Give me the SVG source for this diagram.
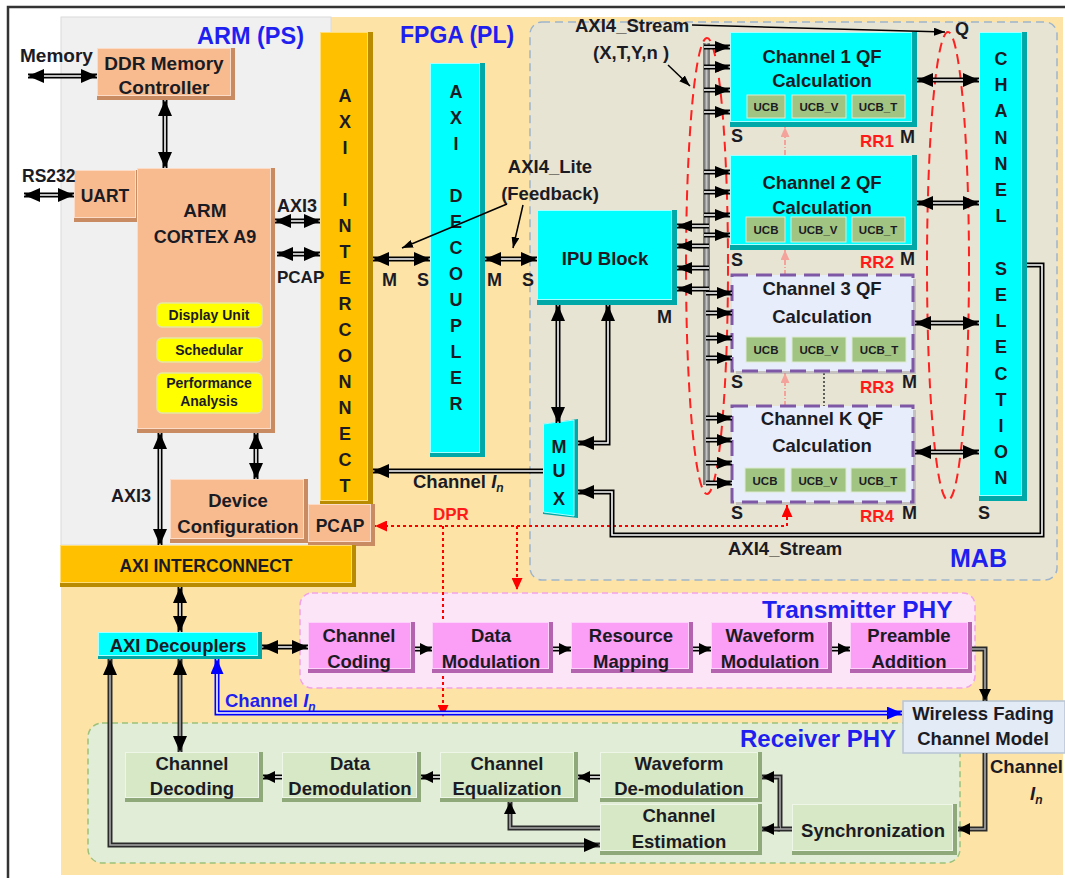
<svg xmlns="http://www.w3.org/2000/svg" width="1065" height="878" viewBox="0 0 1065 878">
<style>
text{font-family:"Liberation Sans",Arial,sans-serif;font-weight:bold;fill:#1b1b24}
.c{text-anchor:middle}
.f19{font-size:19px}
.f18{font-size:18.5px}
.f17{font-size:17.5px}
.f14{font-size:14px}
.f11{font-size:11.5px;text-anchor:middle}
.v{font-size:18px;text-anchor:middle}
.hd{fill:#1f1ff0;font-size:24px}
.rr{fill:#ff1a1a;font-size:17px}
.pe{fill:#F8BB90;stroke:#FCDCC6;stroke-width:1}.pe-d{fill:#C98B62}
.go{fill:#FFC000;stroke:#FFDD77;stroke-width:1}.go-d{fill:#B98B00}
.cy{fill:#00FFFF;stroke:#A8FFFF;stroke-width:1}.cy-d{fill:#00A8A8}
.mg{fill:#FA9EF6;stroke:#FDD3FB;stroke-width:1}.mg-d{fill:#B463AE}
.gr{fill:#D6E8C5;stroke:#EEF6E7;stroke-width:1}.gr-d{fill:#8FA97A}
.yl{fill:#FFFF00;stroke:#E6E6A0;stroke-width:1.5}
.ucb{fill:#A2C482;stroke:#DCEBCF;stroke-width:1}
.rc{fill:#E7EDFA;stroke:#7E58A6;stroke-width:3;stroke-dasharray:16 8}
.o{fill:none;stroke:#000;stroke-width:5}
.i{fill:none;stroke:#fff;stroke-width:1.6}
.og{fill:none;stroke:#2a2a2a;stroke-width:5}
.ig{fill:none;stroke:#a8a8a8;stroke-width:1.6}
.ob{fill:none;stroke:#0000ff;stroke-width:5}
.thin{fill:none;stroke:#000;stroke-width:1.5}
.dpr{fill:none;stroke:#ff0000;stroke-width:2;stroke-dasharray:3 3}
.pd{fill:none;stroke:#F4A39C;stroke-width:2;stroke-dasharray:5 2 1 2}
.rel{fill:none;stroke:#ff2020;stroke-width:2;stroke-dasharray:10 6}
</style>
<defs>
<marker id="hb" viewBox="0 0 16 14" refX="16" refY="7" markerWidth="16" markerHeight="14" markerUnits="userSpaceOnUse" orient="auto-start-reverse"><path d="M0,0L16,7L0,14z"/></marker>
<marker id="hc" viewBox="0 0 15 12" refX="15" refY="6" markerWidth="15" markerHeight="12" markerUnits="userSpaceOnUse" orient="auto-start-reverse"><path d="M0,0L15,6L0,12z"/></marker>
<marker id="hm" viewBox="0 0 12 12" refX="12" refY="6" markerWidth="12" markerHeight="12" markerUnits="userSpaceOnUse" orient="auto-start-reverse"><path d="M0,0L12,6L0,12z"/></marker>
<marker id="ht" viewBox="0 0 11 8" refX="11" refY="4" markerWidth="11" markerHeight="8" markerUnits="userSpaceOnUse" orient="auto"><path d="M0,0L11,4L0,8z"/></marker>
<marker id="hbl" viewBox="0 0 15 13" refX="15" refY="6.5" markerWidth="15" markerHeight="13" markerUnits="userSpaceOnUse" orient="auto-start-reverse"><path d="M0,0L15,6.5L0,13z" fill="#0000ff"/></marker>
<marker id="hr" viewBox="0 0 12 11" refX="12" refY="5.5" markerWidth="12" markerHeight="11" markerUnits="userSpaceOnUse" orient="auto-start-reverse"><path d="M0,0L12,5.5L0,11z" fill="#ff0000"/></marker>
<marker id="hp" viewBox="0 0 10 9" refX="10" refY="4.5" markerWidth="10" markerHeight="9" markerUnits="userSpaceOnUse" orient="auto"><path d="M0,0L10,4.5L0,9z" fill="#F4A39C"/></marker>
<g id="ar"><path class="o" d="M0,0H26"/><path class="i" d="M0,0H26" marker-end="url(#hc)"/></g>
<g id="al"><path class="o" d="M0,0H-32"/><path class="i" d="M0,0H-32" marker-end="url(#hc)"/></g>
</defs>

<g id="regions">
<rect x="0" y="0" width="1065" height="878" fill="#fff"/>
<path d="M8,878V7H1065" fill="none" stroke="#333" stroke-width="2.5"/>
<rect x="61" y="17" width="1002" height="858" fill="#FDE4A6"/>
<rect x="61" y="17" width="270" height="528" fill="#F0F0F0" stroke="#DADADA" stroke-width="1"/>
<rect x="530" y="22" width="527" height="558" rx="12" fill="#E8E4D3" stroke="#9DB4CC" stroke-width="1.5" stroke-dasharray="8 5"/>
<rect x="300" y="593" width="675" height="95" rx="12" fill="#FCE5F6" stroke="#F2A2E6" stroke-width="1.5" stroke-dasharray="6 4"/>
<rect x="88" y="723" width="872" height="140" rx="14" fill="#E2EDD8" stroke="#9CC17A" stroke-width="1.5" stroke-dasharray="6 4"/>
<text class="hd" x="197" y="44" style="font-size:23.5px">ARM (PS)</text>
<text class="hd" x="400" y="43" style="font-size:23px">FPGA (PL)</text>
<text class="hd" x="950" y="567" style="font-size:25px">MAB</text>
<text class="hd" x="762" y="618" style="font-size:24.5px">Transmitter PHY</text>
<text class="hd" x="740" y="747">Receiver PHY</text>
</g>

<g id="connectors-back">
<path class="dpr" d="M787,505V526H375" marker-start="url(#hr)" marker-end="url(#hr)"/>
<path class="dpr" d="M443,526V717" marker-end="url(#hr)"/>
<path class="dpr" d="M517,526V590" marker-end="url(#hr)"/>
<path class="pd" d="M785,155V127" marker-end="url(#hp)"/>
<path class="pd" d="M785,275V250" marker-end="url(#hp)"/>
<path class="pd" d="M785,406V373" marker-end="url(#hp)"/>
<path d="M824,373V406" fill="none" stroke="#333" stroke-width="1.5" stroke-dasharray="2 2"/>
</g>

<g id="ddr"><rect class="pe-d" x="97" y="48" width="138" height="52"/><rect class="pe" x="97.5" y="48.5" width="133" height="47"/><text class="c f19" x="164" y="70">DDR Memory</text><text class="c f19" x="164" y="94">Controller</text></g>
<g id="uart"><rect class="pe-d" x="74" y="170" width="66" height="52"/><rect class="pe" x="74.5" y="170.5" width="61" height="47"/><text class="c f17" x="105" y="202">UART</text></g>
<g id="arm"><rect class="pe-d" x="137" y="168" width="138" height="265"/><rect class="pe" x="137.5" y="168.5" width="133" height="260"/>
<text class="c" x="205" y="217" style="font-size:19px">ARM</text><text class="c" x="205" y="243" style="font-size:18px">CORTEX A9</text>
<rect class="yl" x="157" y="303" width="105" height="24" rx="5"/><text class="c f14" x="209" y="320">Display Unit</text>
<rect class="yl" x="157" y="338" width="105" height="24" rx="5"/><text class="c f14" x="209" y="355">Schedular</text>
<rect class="yl" x="157" y="373" width="105" height="40" rx="5"/><text class="c f14" x="209" y="388">Performance</text><text class="c f14" x="209" y="406">Analysis</text></g>
<g id="devcfg"><rect class="pe-d" x="170" y="479" width="138" height="64"/><rect class="pe" x="170.5" y="479.5" width="133" height="59"/><text class="c f18" x="238" y="507">Device</text><text class="c f18" x="238" y="533">Configuration</text></g>
<g id="axi-ic-v"><rect class="go-d" x="320" y="32" width="53" height="473"/><rect class="go" x="320.5" y="32.5" width="47" height="468"/>
<text class="v"><tspan x="345" y="102">A</tspan><tspan x="345" y="128">X</tspan><tspan x="345" y="154">I</tspan><tspan x="345" y="206">I</tspan><tspan x="345" y="232">N</tspan><tspan x="345" y="258">T</tspan><tspan x="345" y="284">E</tspan><tspan x="345" y="310">R</tspan><tspan x="345" y="336">C</tspan><tspan x="345" y="362">O</tspan><tspan x="345" y="388">N</tspan><tspan x="345" y="414">N</tspan><tspan x="345" y="440">E</tspan><tspan x="345" y="466">C</tspan><tspan x="345" y="492">T</tspan></text></g>
<g id="pcap"><rect class="pe-d" x="308" y="504" width="67" height="42"/><rect class="pe" x="308.5" y="504.5" width="62" height="37"/><text class="c f17" x="340" y="532">PCAP</text></g>
<g id="axi-ic-h"><rect class="go-d" x="60" y="545" width="296" height="42"/><rect class="go" x="60.5" y="545.5" width="291" height="37"/><text class="c f17" x="206" y="572">AXI INTERCONNECT</text></g>
<g id="axi-dec"><rect class="cy-d" x="430" y="63" width="55" height="394"/><rect class="cy" x="430.5" y="63.5" width="49" height="389"/>
<text class="v"><tspan x="456" y="98">A</tspan><tspan x="456" y="124">X</tspan><tspan x="456" y="150">I</tspan><tspan x="456" y="202">D</tspan><tspan x="456" y="228">E</tspan><tspan x="456" y="254">C</tspan><tspan x="456" y="280">O</tspan><tspan x="456" y="306">U</tspan><tspan x="456" y="332">P</tspan><tspan x="456" y="358">L</tspan><tspan x="456" y="384">E</tspan><tspan x="456" y="410">R</tspan></text></g>
<g id="ipu"><rect class="cy-d" x="537" y="210" width="140" height="95"/><rect class="cy" x="537.5" y="210.5" width="134" height="89"/><text class="c f18" x="605" y="265">IPU Block</text></g>
<g id="mux"><polygon class="cy-d" points="543,424 578,419 578,518 543,514"/><polygon class="cy" points="543.5,424 574,420 574,516 543.5,512"/>
<text class="v"><tspan x="559" y="453">M</tspan><tspan x="559" y="477">U</tspan><tspan x="559" y="505">X</tspan></text></g>
<g id="ch1"><rect class="cy-d" x="730" y="32" width="187" height="95"/><rect class="cy" x="730.5" y="32.5" width="181" height="89"/>
<text class="c f18" x="822" y="63">Channel 1 QF</text><text class="c f18" x="822" y="87">Calculation</text>
<rect class="ucb" x="747" y="95" width="38" height="23"/><rect class="ucb" x="792" y="95" width="54" height="23"/><rect class="ucb" x="852" y="95" width="53" height="23"/>
<text class="f11" x="766" y="111">UCB</text><text class="f11" x="819" y="111">UCB_V</text><text class="f11" x="878" y="111">UCB_T</text></g>
<g id="ch2"><rect class="cy-d" x="730" y="155" width="187" height="95"/><rect class="cy" x="730.5" y="155.5" width="181" height="89"/>
<text class="c f18" x="822" y="189">Channel 2 QF</text><text class="c f18" x="822" y="214">Calculation</text>
<rect class="ucb" x="746" y="217" width="39" height="25"/><rect class="ucb" x="791" y="217" width="55" height="25"/><rect class="ucb" x="852" y="217" width="53" height="25"/>
<text class="f11" x="766" y="234">UCB</text><text class="f11" x="818" y="234">UCB_V</text><text class="f11" x="878" y="234">UCB_T</text></g>
<g id="ch3"><rect x="736" y="279" width="180" height="95" fill="#9a96a8" opacity=".45"/><rect class="rc" x="732" y="275" width="181" height="96"/>
<text class="c f18" x="822" y="295">Channel 3 QF</text><text class="c f18" x="822" y="323">Calculation</text>
<rect class="ucb" x="746" y="337" width="40" height="25"/><rect class="ucb" x="792" y="337" width="54" height="25"/><rect class="ucb" x="852" y="337" width="54" height="25"/>
<text class="f11" x="766" y="354">UCB</text><text class="f11" x="819" y="354">UCB_V</text><text class="f11" x="879" y="354">UCB_T</text></g>
<g id="chk"><rect x="736" y="410" width="180" height="95" fill="#9a96a8" opacity=".45"/><rect class="rc" x="732" y="406" width="181" height="96"/>
<text class="c f18" x="822" y="425">Channel K QF</text><text class="c f18" x="822" y="452">Calculation</text>
<rect class="ucb" x="745" y="468" width="40" height="24"/><rect class="ucb" x="791" y="468" width="55" height="24"/><rect class="ucb" x="851" y="468" width="55" height="24"/>
<text class="f11" x="765" y="485">UCB</text><text class="f11" x="818" y="485">UCB_V</text><text class="f11" x="878" y="485">UCB_T</text></g>
<g id="chsel"><rect class="cy-d" x="979" y="32" width="48" height="469"/><rect class="cy" x="979.5" y="32.5" width="42" height="463"/>
<text class="v"><tspan x="1001" y="65">C</tspan><tspan x="1001" y="91">H</tspan><tspan x="1001" y="117">A</tspan><tspan x="1001" y="144">N</tspan><tspan x="1001" y="170">N</tspan><tspan x="1001" y="196">E</tspan><tspan x="1001" y="222">L</tspan><tspan x="1001" y="275">S</tspan><tspan x="1001" y="301">E</tspan><tspan x="1001" y="327">L</tspan><tspan x="1001" y="353">E</tspan><tspan x="1001" y="380">C</tspan><tspan x="1001" y="406">T</tspan><tspan x="1001" y="432">I</tspan><tspan x="1001" y="458">O</tspan><tspan x="1001" y="484">N</tspan></text></g>
<g id="axi-decouplers"><rect class="cy-d" x="98" y="632" width="164" height="27"/><rect class="cy" x="98.5" y="632.5" width="159" height="23"/><text class="c f18" x="178" y="652">AXI Decouplers</text></g>
<g id="tx-coding"><rect class="mg-d" x="308" y="622" width="107" height="51"/><rect class="mg" x="308.5" y="622.5" width="102" height="46"/><text class="c f18" x="359" y="642">Channel</text><text class="c f18" x="359" y="668">Coding</text></g>
<g id="tx-mod"><rect class="mg-d" x="432" y="622" width="121" height="51"/><rect class="mg" x="432.5" y="622.5" width="116" height="46"/><text class="c f18" x="491" y="642">Data</text><text class="c f18" x="491" y="668">Modulation</text></g>
<g id="tx-map"><rect class="mg-d" x="571" y="622" width="122" height="51"/><rect class="mg" x="571.5" y="622.5" width="117" height="46"/><text class="c f18" x="631" y="642">Resource</text><text class="c f18" x="631" y="668">Mapping</text></g>
<g id="tx-wave"><rect class="mg-d" x="711" y="622" width="121" height="51"/><rect class="mg" x="711.5" y="622.5" width="116" height="46"/><text class="c f18" x="770" y="642">Waveform</text><text class="c f18" x="770" y="668">Modulation</text></g>
<g id="tx-pre"><rect class="mg-d" x="850" y="622" width="122" height="51"/><rect class="mg" x="850.5" y="622.5" width="117" height="46"/><text class="c f18" x="909" y="642">Preamble</text><text class="c f18" x="909" y="668">Addition</text></g>
<g id="wireless"><rect x="903" y="701" width="162" height="52" fill="#E3EBF6" stroke="#B8C4D4" stroke-width="1.5"/><text class="c f18" x="983" y="720">Wireless Fading</text><text class="c f18" x="983" y="745">Channel Model</text></g>
<g id="rx-dec"><rect class="gr-d" x="125" y="752" width="138" height="50"/><rect class="gr" x="125.5" y="752.5" width="133" height="45"/><text class="c f18" x="192" y="770">Channel</text><text class="c f18" x="192" y="795">Decoding</text></g>
<g id="rx-demod"><rect class="gr-d" x="282" y="752" width="139" height="50"/><rect class="gr" x="282.5" y="752.5" width="134" height="45"/><text class="c f18" x="350" y="770">Data</text><text class="c f18" x="350" y="795">Demodulation</text></g>
<g id="rx-eq"><rect class="gr-d" x="440" y="752" width="138" height="50"/><rect class="gr" x="440.5" y="752.5" width="133" height="45"/><text class="c f18" x="507" y="770">Channel</text><text class="c f18" x="507" y="795">Equalization</text></g>
<g id="rx-wave"><rect class="gr-d" x="600" y="752" width="162" height="50"/><rect class="gr" x="600.5" y="752.5" width="157" height="45"/><text class="c f18" x="679" y="770">Waveform</text><text class="c f18" x="679" y="795">De-modulation</text></g>
<g id="rx-est"><rect class="gr-d" x="600" y="804" width="162" height="51"/><rect class="gr" x="600.5" y="804.5" width="157" height="46"/><text class="c f18" x="679" y="822">Channel</text><text class="c f18" x="679" y="848">Estimation</text></g>
<g id="rx-sync"><rect class="gr-d" x="792" y="804" width="165" height="51"/><rect class="gr" x="792.5" y="804.5" width="160" height="46"/><text class="c f18" x="873" y="837">Synchronization</text></g>

<g id="connectors">
<ellipse class="rel" cx="707" cy="266" rx="21" ry="228"/>
<ellipse class="rel" cx="948" cy="266" rx="21" ry="234"/>
<rect x="703" y="43" width="7" height="442" fill="#7d7d7d"/><path d="M706.5,43V485" stroke="#c4c4c4" stroke-width="2"/>
<use href="#ar" x="704" y="47"/><use href="#ar" x="704" y="67"/><use href="#ar" x="704" y="90"/><use href="#ar" x="704" y="112"/>
<use href="#ar" x="704" y="172"/><use href="#ar" x="704" y="192"/><use href="#ar" x="704" y="215"/><use href="#ar" x="704" y="235"/>
<use href="#ar" x="706" y="293"/><use href="#ar" x="706" y="313"/><use href="#ar" x="706" y="338"/><use href="#ar" x="706" y="358"/>
<use href="#ar" x="706" y="418"/><use href="#ar" x="706" y="440"/><use href="#ar" x="706" y="463"/><use href="#ar" x="706" y="483"/>
<use href="#al" x="709" y="226"/><use href="#al" x="709" y="246"/><use href="#al" x="709" y="268"/><use href="#al" x="709" y="289"/>

<path class="o" d="M28,76H97"/><path class="i" d="M28,76H97" marker-start="url(#hb)" marker-end="url(#hb)"/>
<path class="o" d="M165,100V168"/><path class="i" d="M165,100V168" marker-start="url(#hb)" marker-end="url(#hb)"/>
<path class="o" d="M24,195H74"/><path class="i" d="M24,195H74" marker-start="url(#hb)" marker-end="url(#hb)"/>
<path class="o" d="M275,221H320"/><path class="i" d="M275,221H320" marker-start="url(#hb)" marker-end="url(#hb)"/>
<path class="o" d="M277,254H320"/><path class="i" d="M277,254H320" marker-start="url(#hb)" marker-end="url(#hb)"/>
<path class="o" d="M160,433V545"/><path class="i" d="M160,433V545" marker-start="url(#hb)" marker-end="url(#hb)"/>
<path class="o" d="M256,433V479"/><path class="i" d="M256,433V479" marker-start="url(#hb)" marker-end="url(#hb)"/>
<path class="o" d="M373,259H430"/><path class="i" d="M373,259H430" marker-start="url(#hb)" marker-end="url(#hb)"/>
<path class="o" d="M485,259H537"/><path class="i" d="M485,259H537" marker-start="url(#hb)" marker-end="url(#hb)"/>
<path class="o" d="M558,305V423"/><path class="i" d="M558,305V423" marker-start="url(#hb)" marker-end="url(#hb)"/>
<path class="o" d="M608,305V443H578"/><path class="i" d="M608,305V443H578" marker-start="url(#hb)" marker-end="url(#hb)"/>
<path class="o" d="M543,471H373"/><path class="i" d="M543,471H373" marker-end="url(#hb)"/>
<path class="o" d="M1027,265H1042V535H612V492H578"/><path class="i" d="M1027,265H1042V535H612V492H578" marker-end="url(#hb)"/>
<path class="o" d="M917,80H979"/><path class="i" d="M917,80H979" marker-start="url(#hb)" marker-end="url(#hb)"/>
<path class="o" d="M917,203H979"/><path class="i" d="M917,203H979" marker-start="url(#hb)" marker-end="url(#hb)"/>
<path class="o" d="M915,323H979"/><path class="i" d="M915,323H979" marker-start="url(#hb)" marker-end="url(#hb)"/>
<path class="o" d="M915,452H979"/><path class="i" d="M915,452H979" marker-start="url(#hb)" marker-end="url(#hb)"/>
<path class="thin" d="M507,204L402,248" marker-end="url(#ht)"/>
<path class="thin" d="M523,205L513,248" marker-end="url(#ht)"/>
<path class="thin" d="M668,65L690,86" marker-end="url(#ht)"/>
<path class="thin" d="M692,25L945,32" stroke-width="2" marker-end="url(#ht)"/>

<path class="o" d="M180,587V632"/><path class="i" d="M180,587V632" marker-start="url(#hb)" marker-end="url(#hb)"/>
<path class="o" d="M262,647H308"/><path class="i" d="M262,647H308" marker-start="url(#hb)" marker-end="url(#hb)"/>
<path class="og" d="M180,659V752"/><path class="ig" d="M180,659V752" marker-start="url(#hb)" marker-end="url(#hb)"/>
<path class="og" d="M110,659V845H600"/><path class="ig" d="M110,659V845H600" marker-start="url(#hb)" marker-end="url(#hb)"/>
<path class="ob" d="M217,659V713H902"/><path class="i" d="M217,659V713H902" marker-start="url(#hbl)" marker-end="url(#hbl)"/>
<path class="o" d="M415,649H432"/><path class="i" d="M415,649H432" marker-end="url(#hm)"/>
<path class="o" d="M553,649H571"/><path class="i" d="M553,649H571" marker-end="url(#hm)"/>
<path class="o" d="M693,649H711"/><path class="i" d="M693,649H711" marker-end="url(#hm)"/>
<path class="o" d="M832,649H850"/><path class="i" d="M832,649H850" marker-end="url(#hm)"/>
<path class="og" d="M972,649H985V701"/><path class="ig" d="M972,649H985V701" marker-end="url(#hm)"/>
<path class="og" d="M985,753V829H958"/><path class="ig" d="M985,753V829H958" marker-end="url(#hm)"/>
<path class="o" d="M282,777H263"/><path class="i" d="M282,777H263" marker-end="url(#hm)"/>
<path class="o" d="M440,777H421"/><path class="i" d="M440,777H421" marker-end="url(#hm)"/>
<path class="o" d="M600,777H578"/><path class="i" d="M600,777H578" marker-end="url(#hm)"/>
<path class="og" d="M600,828H510V802"/><path class="ig" d="M600,828H510V802" marker-end="url(#hm)"/>
<path class="og" d="M792,829H780V777H762"/><path class="ig" d="M792,829H780V777H762" marker-end="url(#hm)"/>
<path class="og" d="M780,829H762"/><path class="ig" d="M780,829H762" marker-end="url(#hm)"/>
</g>

<g id="labels">
<text class="f19" x="20" y="62">Memory</text>
<text class="f17" x="22" y="182">RS232</text>
<text style="font-size:18px" x="277" y="212">AXI3</text>
<text style="font-size:17px" x="277" y="283">PCAP</text>
<text style="font-size:18px" x="111" y="502">AXI3</text>
<text class="c f18" x="550" y="173">AXI4_Lite</text>
<text class="c f18" x="550" y="200">(Feedback)</text>
<text style="font-size:18px" x="382" y="286">M</text><text style="font-size:18px" x="417" y="286">S</text>
<text style="font-size:18px" x="487" y="286">M</text><text style="font-size:18px" x="522" y="286">S</text>
<text style="font-size:18px" x="657" y="323">M</text>
<text class="f18" x="575" y="32">AXI4_Stream</text>
<text class="f18" x="593" y="59">(X,T,Y,n )</text>
<text style="font-size:18px" x="955" y="35">Q</text>
<text class="f18" x="413" y="488">Channel <tspan font-style="italic">I</tspan><tspan font-style="italic" font-size="12" dy="4">n</tspan></text>
<text class="rr" x="433" y="520">DPR</text>
<text class="f18" x="728" y="555">AXI4_Stream</text>
<text style="font-size:18px" x="731" y="142">S</text><text style="font-size:18px" x="900" y="143">M</text><text class="rr" x="860" y="147">RR1</text>
<text style="font-size:18px" x="731" y="266">S</text><text style="font-size:18px" x="900" y="265">M</text><text class="rr" x="860" y="268">RR2</text>
<text style="font-size:18px" x="731" y="388">S</text><text style="font-size:18px" x="902" y="388">M</text><text class="rr" x="860" y="393">RR3</text>
<text style="font-size:18px" x="731" y="519">S</text><text style="font-size:18px" x="902" y="519">M</text><text class="rr" x="860" y="522">RR4</text>
<text style="font-size:18px" x="978" y="519">S</text>
<text class="f18" x="225" y="707" style="fill:#1f1ff0">Channel <tspan font-style="italic">I</tspan><tspan font-style="italic" font-size="12" dy="4">n</tspan></text>
<text class="f18" x="990" y="773">Channel</text>
<text class="f18" x="1030" y="800"><tspan font-style="italic">I</tspan><tspan font-style="italic" font-size="12" dy="4">n</tspan></text>
</g>
</svg>
